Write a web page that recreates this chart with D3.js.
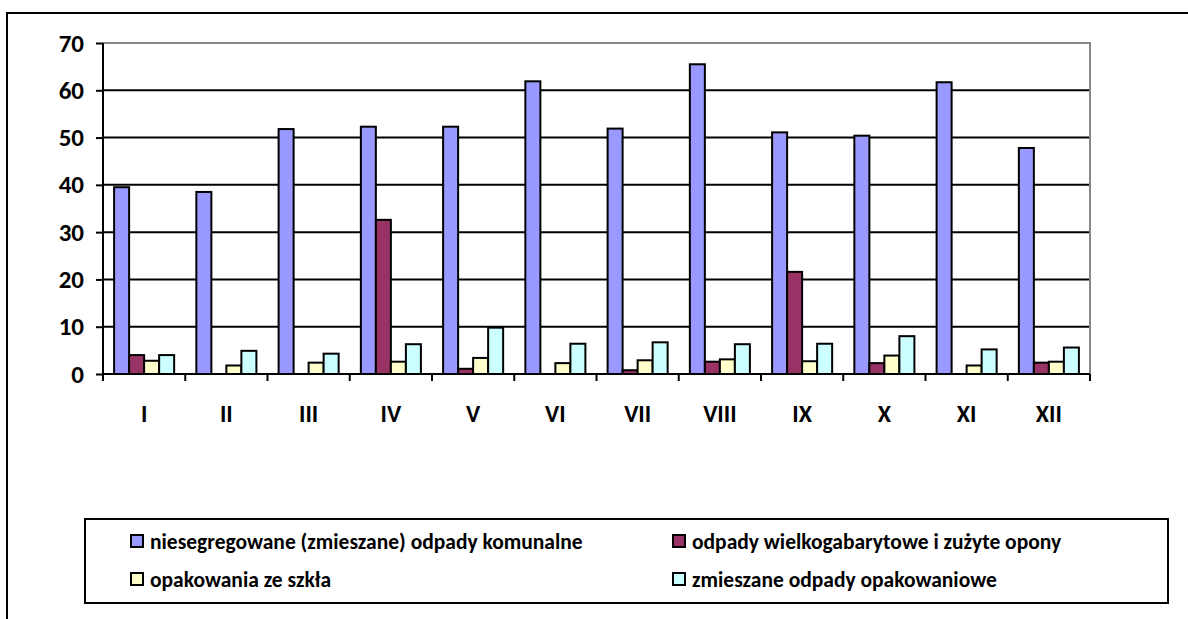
<!DOCTYPE html>
<html>
<head>
<meta charset="utf-8">
<script src="https://cdn.jsdelivr.net/npm/d3@7"></script>
<style>
  body { margin: 0; background: #fff; }
  text { font-family: Calibri, Carlito, "Open Sans", sans-serif; font-weight: bold; fill: #000; }
</style>
</head>
<body>
<div id="chart"></div>
<script>
const months = ['I', 'II', 'III', 'IV', 'V', 'VI', 'VII', 'VIII', 'IX', 'X', 'XI', 'XII']
const seriesNames = [
  'niesegregowane (zmieszane) odpady komunalne',
  'odpady wielkogabarytowe i zużyte opony',
  'opakowania ze szkła',
  'zmieszane odpady opakowaniowe'
]
const colors = ['#9999ff', '#993366', '#ffffcc', '#ccffff']
const mixed   = [39.5, 38.5, 51.8, 52.3, 52.3, 61.9, 51.9, 65.5, 51.1, 50.4, 61.7, 47.8]
const bulky   = [4.0, 0, 0, 32.6, 1.1, 0, 0.8, 2.6, 21.6, 2.3, 0, 2.4]
const glass   = [2.8, 1.8, 2.4, 2.6, 3.4, 2.3, 2.9, 3.1, 2.7, 3.9, 1.8, 2.6]
const packing = [4.0, 4.9, 4.3, 6.3, 9.8, 6.4, 6.7, 6.3, 6.4, 8.0, 5.2, 5.6]
const yTicks = [0, 10, 20, 30, 40, 50, 60, 70]

const seriesValues = [mixed, bulky, glass, packing]
const datas = months.map((m, i) => ({ month: m, values: seriesValues.map(s => s[i]) }))

const width = 1188
const height = 619
const plot = { left: 103, right: 1090, top: 43, bottom: 374 }

const svg = d3.select('#chart')
  .append('svg')
  .attr('width', width)
  .attr('height', height)

// outer frame (runs off the right and bottom edges)
svg.append('rect')
  .attr('x', 7).attr('y', 13)
  .attr('width', width + 20).attr('height', height + 20)
  .attr('fill', 'none').attr('stroke', '#000').attr('stroke-width', 2)

const x = d3.scaleBand()
  .domain(months)
  .range([plot.left, plot.right])
  .paddingInner(0.27)
  .paddingOuter(0.135)

const xs = d3.scaleBand()
  .domain(d3.range(4))
  .range([0, x.bandwidth()])

const y = d3.scaleLinear()
  .domain([0, 70])
  .range([plot.bottom, plot.top])

// gridlines
svg.append('g')
  .selectAll('line')
  .data(yTicks.filter(t => t > 0 && t < 70))
  .join('line')
    .attr('x1', plot.left).attr('x2', plot.right)
    .attr('y1', d => y(d)).attr('y2', d => y(d))
    .attr('stroke', '#000').attr('stroke-width', 2)

// plot area border (top + right, grey)
svg.append('path')
  .attr('d', `M${plot.left},${y(70)}H${plot.right}V${y(0)}`)
  .attr('fill', 'none').attr('stroke', '#888').attr('stroke-width', 2)

// bars
svg.append('g')
  .selectAll('g')
  .data(datas)
  .join('g')
    .attr('transform', d => `translate(${x(d.month)},0)`)
  .selectAll('rect')
  .data(d => d.values.map((v, k) => ({ v, k })).filter(e => e.v > 0))
  .join('rect')
    .attr('x', d => xs(d.k))
    .attr('y', d => y(d.v))
    .attr('width', xs.bandwidth())
    .attr('height', d => y(0) - y(d.v))
    .attr('fill', d => colors[d.k])
    .attr('stroke', '#000')
    .attr('stroke-width', 2)

// y axis
const yAxis = svg.append('g')
  .attr('transform', `translate(${plot.left},0)`)
  .call(d3.axisLeft(y).tickValues(yTicks).tickSize(7).tickPadding(12))
yAxis.select('.domain').attr('stroke-width', 2).attr('d', `M0,${y(70)}V${y(0)}`)
yAxis.selectAll('.tick line').attr('stroke-width', 2)
yAxis.selectAll('.tick text').attr('font-size', 25)

// x axis: ticks at category boundaries
const boundaries = d3.range(months.length + 1).map(i => plot.left + i * x.step())
const xAxis = svg.append('g')
svg.append('line')
  .attr('x1', plot.left).attr('x2', plot.right)
  .attr('y1', y(0)).attr('y2', y(0))
  .attr('stroke', '#000').attr('stroke-width', 2)
xAxis.selectAll('line')
  .data(boundaries)
  .join('line')
    .attr('x1', d => d).attr('x2', d => d)
    .attr('y1', y(0)).attr('y2', y(0) + 7)
    .attr('stroke', '#000').attr('stroke-width', 2)
xAxis.selectAll('text')
  .data(months)
  .join('text')
    .attr('x', d => x(d) + x.bandwidth() / 2)
    .attr('y', 414)
    .attr('dy', '0.35em')
    .attr('text-anchor', 'middle')
    .attr('font-size', 24)
    .text(d => d)

// legend
svg.append('rect')
  .attr('x', 85).attr('y', 519)
  .attr('width', 1083).attr('height', 84)
  .attr('fill', '#fff').attr('stroke', '#000').attr('stroke-width', 2)

const legendPos = [[131, 541], [673, 541], [131, 579], [673, 579]]
const legend = svg.append('g')
  .selectAll('g')
  .data(seriesNames)
  .join('g')
    .attr('transform', (d, i) => `translate(${legendPos[i][0]},${legendPos[i][1]})`)
legend.append('rect')
  .attr('x', 0).attr('y', -6)
  .attr('width', 12).attr('height', 12)
  .attr('fill', (d, i) => colors[i])
  .attr('stroke', '#000').attr('stroke-width', 2)
legend.append('text')
  .attr('x', 19)
  .attr('dy', '0.35em')
  .attr('font-size', 21.5)
  .text(d => d)
</script>
</body>
</html>
